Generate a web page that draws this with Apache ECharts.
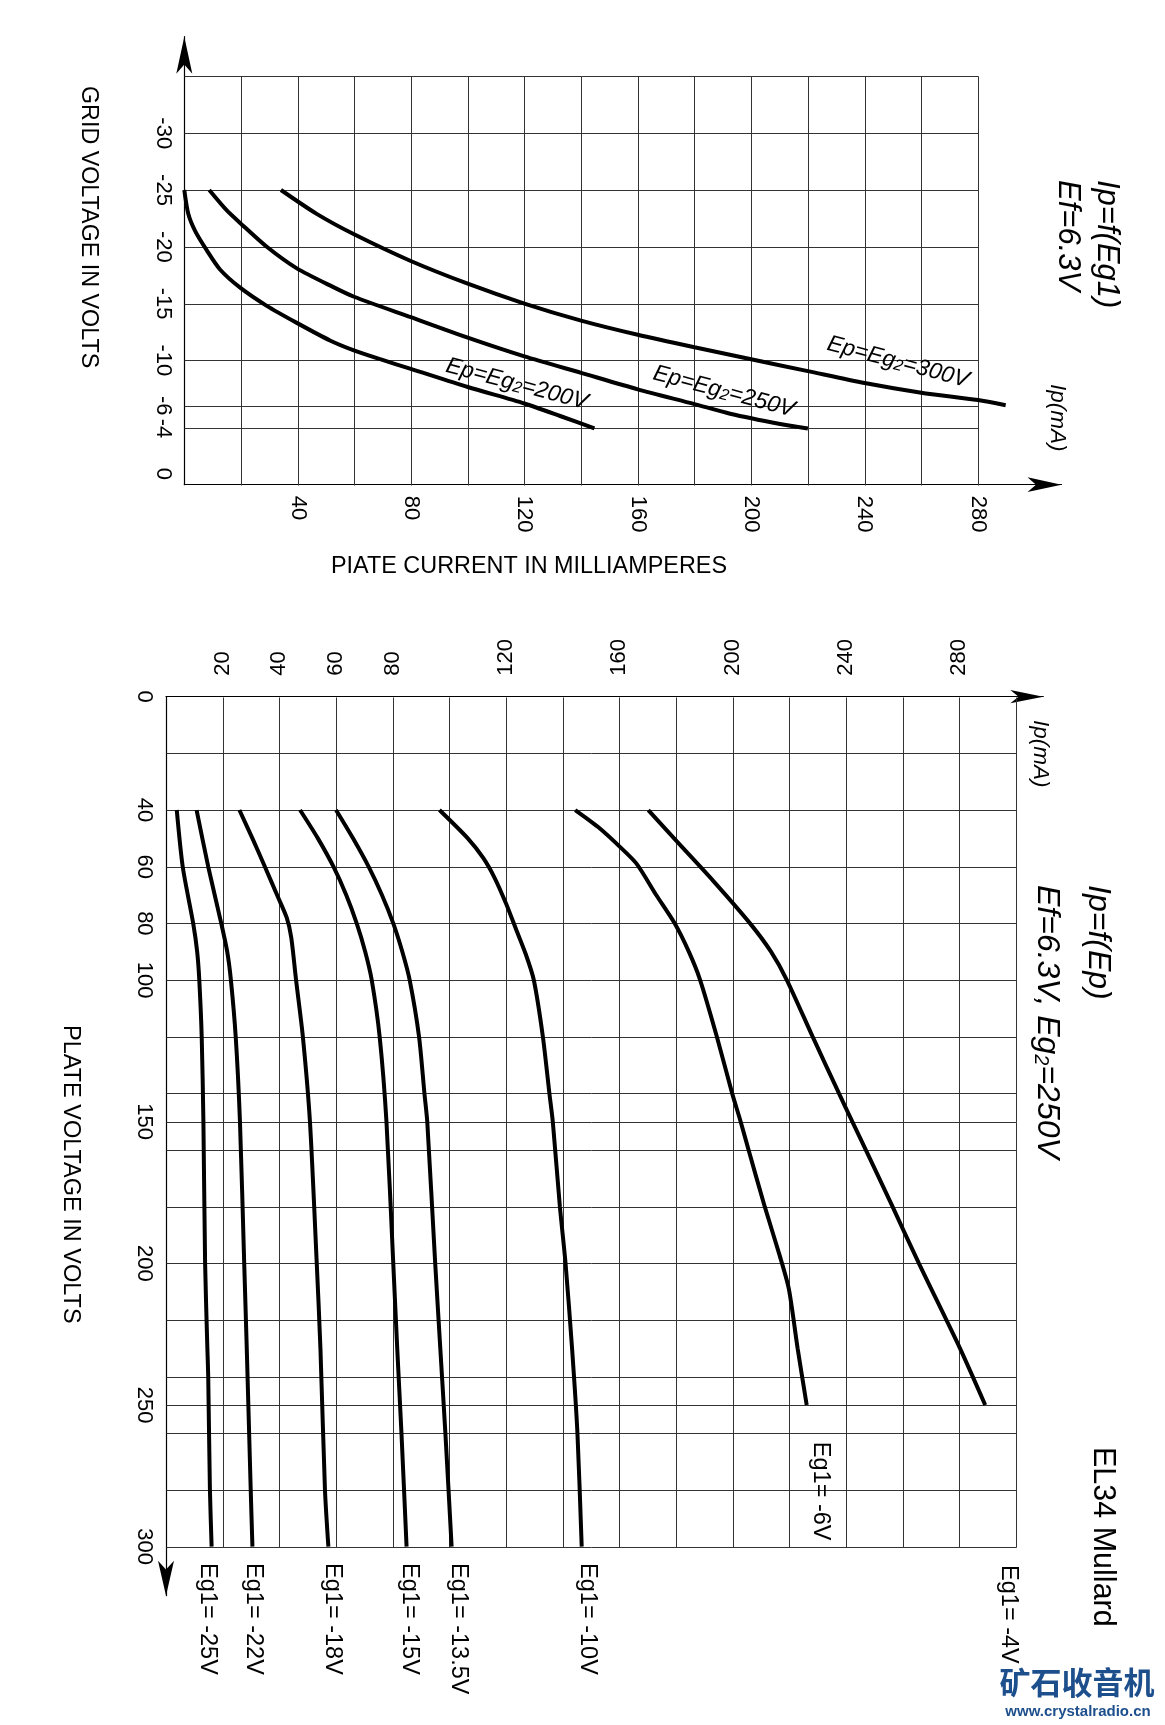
<!DOCTYPE html>
<html><head><meta charset="utf-8">
<script src="https://cdn.jsdelivr.net/npm/echarts@6/dist/echarts.min.js"></script>
<style>html,body{margin:0;padding:0;background:#fff}#c{width:1165px;height:1725px}</style>
</head><body><div id="c"></div>
<script>
// ================= DATA =================
// Top chart: Ip = f(Eg1) — x: plate current (mA), y: grid voltage (V)
const gridVoltTicks = [-30, -25, -20, -15, -10, -6, -4, 0];
const topCurrentTicks = [40, 80, 120, 160, 200, 240, 280];
const topHGrid = [-35, -30, -25, -20, -15, -10, -6, -4];
const topVGrid = [20, 40, 60, 80, 100, 120, 140, 160, 180, 200, 220, 240, 260, 280];

const ep200Current = [0, 1.4, 3.8, 7.9, 12.6, 19.7, 29.1, 39.7, 51.4, 59.6, 69.1, 79.9, 100, 120, 132.6, 144.7];
const ep200GridV   = [-25, -22.9, -21.4, -19.7, -18.0, -16.4, -14.8, -13.3, -11.75, -10.9, -10.1, -9.25, -7.65, -6.2, -5.1, -4];
const ep250Current = [8.8, 15.0, 19.7, 29.1, 39.7, 52.6, 59.9, 79.9, 100, 120, 140, 160, 180, 192.6, 210.2, 220];
const ep250GridV   = [-25, -23.2, -22.1, -20, -18.1, -16.45, -15.6, -13.8, -12.0, -10.35, -8.9, -7.45, -6.15, -5.3, -4.4, -4];
const ep300Current = [34.1, 46.7, 59.9, 79.9, 100, 120, 140, 160, 180, 200, 220, 240, 260, 280, 289.8];
const ep300GridV   = [-25, -22.9, -21.1, -18.75, -16.75, -15, -13.5, -12.25, -11.15, -10.1, -9.05, -8.0, -7.15, -6.5, -6.05];

const topCurveLabels  = ['Ep=Eg{s|2}=200V', 'Ep=Eg{s|2}=250V', 'Ep=Eg{s|2}=300V'];
const topCurveLabelI  = [117.3, 190.4, 251.8];
const topCurveLabelV  = [-7.9, -7.24, -9.84];

// Bottom chart: Ip = f(Ep) — x: plate current (mA), y: plate voltage (V)
const plateVoltTicks = [0, 40, 60, 80, 100, 150, 200, 250, 300];
const botCurrentTicks = [20, 40, 60, 80, 120, 160, 200, 240, 280];
const botHGrid = [20, 40, 60, 80, 100, 120, 140, 150, 160, 180, 200, 220, 240, 250, 260, 280, 300];
const botVGrid = [20, 40, 60, 80, 100, 120, 140, 160, 180, 200, 220, 240, 260, 280, 300];

const eg25Current = [3.8, 5.9, 9.6, 11.0, 11.75, 12.6, 13.2, 13.8, 14.6, 14.9, 15.5, 16.1];
const eg25PlateV  = [40, 60, 80, 90, 100, 120, 150, 200, 230, 240, 280, 300];
const eg22Current = [10.8, 14.9, 19.5, 21.6, 22.9, 24.6, 26.1, 27.6, 28.5, 29.9, 30.5];
const eg22PlateV  = [40, 60, 80, 90, 100, 120, 150, 200, 230, 280, 300];
const eg18Current = [25.9, 30.5, 34.9, 39.2, 42.6, 44.2, 45.9, 48.3, 50.8, 53.2, 54.5, 56.1, 57.3];
const eg18PlateV  = [40, 50, 60, 70, 78, 85, 100, 120, 150, 200, 230, 280, 300];
const eg15Current = [47.3, 53.6, 59.1, 63.6, 67.3, 70.3, 72.6, 75.4, 77.8, 80.2, 81.6, 83.1, 84.9];
const eg15PlateV  = [40, 50, 60, 70, 80, 90, 100, 120, 150, 200, 230, 260, 300];
const eg135Current = [60.0, 66.0, 71.5, 76.2, 80.2, 83.4, 86.0, 89.3, 91.2, 92.2, 95.0, 96.8, 98.6, 100.8];
const eg135PlateV  = [40, 50, 60, 70, 80, 90, 100, 120, 140, 150, 200, 230, 260, 300];
const eg10Current = [96.5, 106.5, 112, 116, 120, 123.5, 127, 129.8, 133, 135.3, 136.5, 139, 141, 143.3, 145.2, 146.7];
const eg10PlateV  = [40, 50, 57, 64, 73, 82, 91, 100, 120, 140, 150, 180, 200, 230, 260, 300];
const eg6Current = [144.4, 152.5, 160.2, 166.1, 173, 179.5, 184.5, 188.5, 194.4, 199.8, 202.8, 205.6, 211.3, 216.5, 219.8, 222.9, 226.1];
const eg6PlateV  = [40, 46, 53, 59, 70, 80, 90, 100, 120, 140, 150, 160, 180, 197, 209, 230, 250];
const eg4Current = [170.2, 180.2, 193.1, 206.1, 213.5, 219.1, 228.2, 237.5, 242.2, 247, 256.4, 265.7, 280.2, 289.1];
const eg4PlateV  = [40, 51, 65, 80, 90, 100, 120, 140, 150, 160, 180, 200, 230, 250];

const botCurveLabels = ['Eg1= -25V', 'Eg1= -22V', 'Eg1= -18V', 'Eg1= -15V', 'Eg1= -13.5V', 'Eg1= -10V', 'Eg1= -6V', 'Eg1= -4V'];
const botCurveLabelI = [14.8, 30.7, 58.6, 86.1, 103.1, 148.9, 231.1, 297.2];
const botCurveLabelV = [305.8, 305.8, 305.8, 305.8, 305.8, 305.8, 263, 306.5];

// ================= LAYOUT / STYLE =================
const FONT = '"Liberation Sans", Arial, Helvetica, sans-serif';
const TOP = {left: 184.3, top: 36.7, width: 877.2, height: 448, xMax: 309.5, yMin: -38.5, yMax: 0.95};
const BOT = {left: 166, top: 696.7, width: 877.3, height: 899, xMax: 309.6, yMax: 317.3};
const GRID_COLOR = '#333333';

const zip = (xs, ys) => xs.map((x, i) => [x, ys[i]]);
const hasTick = (list, v) => list.some(t => Math.abs(t - v) < 1e-6);

function gridLines(idx, hVals, vVals, xr, yr) {
  const data = hVals.map(v => [0, v]).concat(vVals.map(v => [1, v]));
  return {
    type: 'custom', xAxisIndex: idx, yAxisIndex: idx, silent: true, z: 1, clip: false,
    data: data,
    renderItem: function (params, api) {
      const o = api.value(0), v = api.value(1);
      const p1 = o === 0 ? api.coord([xr[0], v]) : api.coord([v, yr[0]]);
      const p2 = o === 0 ? api.coord([xr[1], v]) : api.coord([v, yr[1]]);
      const r = (a) => Math.round(a) + 0.5;
      return {type: 'line', shape: {x1: r(p1[0]), y1: r(p1[1]), x2: r(p2[0]), y2: r(p2[1])},
              style: {stroke: GRID_COLOR, lineWidth: 1}};
    }
  };
}
function curve(idx, xs, ys) {
  return {type: 'line', xAxisIndex: idx, yAxisIndex: idx, data: zip(xs, ys), smooth: 0.25,
          symbol: 'none', silent: true, z: 5, lineStyle: {color: '#000', width: 4}};
}
const axisLabelBase = {color: '#000', fontSize: 22, fontFamily: FONT, rotate: -90};

const option = {
  backgroundColor: '#fff',
  animation: false,
  grid: [
    {left: TOP.left, top: TOP.top, width: TOP.width, height: TOP.height, containLabel: false, outerBoundsMode: 'none'},
    {left: BOT.left, top: BOT.top, width: BOT.width, height: BOT.height, containLabel: false, outerBoundsMode: 'none'}
  ],
  xAxis: [
    {type: 'value', gridIndex: 0, position: 'bottom', min: 0, max: TOP.xMax, interval: 20,
     axisLine: {show: true, onZero: false, symbol: ['none', 'arrow'], symbolSize: [11, 34], lineStyle: {color: '#000', width: 1.2}},
     axisTick: {show: false}, splitLine: {show: false},
     axisLabel: Object.assign({}, axisLabelBase, {margin: 11, showMaxLabel: false,
       formatter: v => hasTick(topCurrentTicks, v) ? String(v) : ''})},
    {type: 'value', gridIndex: 1, position: 'top', min: 0, max: BOT.xMax, interval: 20,
     axisLine: {show: true, onZero: false, symbol: ['none', 'arrow'], symbolSize: [10, 33], lineStyle: {color: '#000', width: 1.2}},
     axisTick: {show: false}, splitLine: {show: false},
     axisLabel: Object.assign({}, axisLabelBase, {margin: 21, showMaxLabel: false,
       formatter: v => hasTick(botCurrentTicks, v) ? String(v) : ''})}
  ],
  yAxis: [
    {type: 'value', gridIndex: 0, inverse: true, min: TOP.yMin, max: TOP.yMax, interval: 0.5,
     axisLine: {show: true, onZero: false, symbol: ['none', 'arrow'], symbolSize: [12, 37], lineStyle: {color: '#000', width: 1.2}},
     axisTick: {show: false}, splitLine: {show: false},
     axisLabel: Object.assign({}, axisLabelBase, {margin: 10, showMaxLabel: false,
       formatter: v => hasTick(gridVoltTicks, v) ? String(v) : ''})},
    {type: 'value', gridIndex: 1, inverse: true, min: 0, max: BOT.yMax, interval: 10,
     axisLine: {show: true, onZero: false, symbol: ['arrow', 'none'], symbolSize: [12, 35], lineStyle: {color: '#000', width: 1.2}},
     axisTick: {show: false}, splitLine: {show: false},
     axisLabel: Object.assign({}, axisLabelBase, {margin: 11, showMaxLabel: false,
       formatter: v => hasTick(plateVoltTicks, v) ? String(v) : ''})}
  ],
  series: [
    gridLines(0, topHGrid, topVGrid, [0, 280], [TOP.yMax, -35]),
    gridLines(1, botHGrid, botVGrid, [0, 300], [0, 300]),
    curve(0, ep200Current, ep200GridV),
    curve(0, ep250Current, ep250GridV),
    curve(0, ep300Current, ep300GridV),
    curve(1, eg25Current, eg25PlateV),
    curve(1, eg22Current, eg22PlateV),
    curve(1, eg18Current, eg18PlateV),
    curve(1, eg15Current, eg15PlateV),
    curve(1, eg135Current, eg135PlateV),
    curve(1, eg10Current, eg10PlateV),
    curve(1, eg6Current, eg6PlateV),
    curve(1, eg4Current, eg4PlateV)
  ]
};

const chart = echarts.init(document.getElementById('c'));
chart.setOption(option);

// ================= TEXT =================
function vtext(x, y, text, size, extra) {
  return {type: 'text', x: x, y: y, rotation: -Math.PI / 2, silent: true, z: 10,
    style: Object.assign({text: text, fontSize: size, fontFamily: FONT, fill: '#000', align: 'left', verticalAlign: 'middle'}, extra || {})};
}
const subRich = (size) => ({s: {fontSize: size, fontFamily: FONT, fontStyle: 'italic', fill: '#000', verticalAlign: 'bottom'}});
const graphics = [
  vtext(88, 86, 'GRID VOLTAGE IN VOLTS', 23.3),
  {type: 'text', x: 529, y: 567, silent: true, style: {text: 'PIATE CURRENT IN MILLIAMPERES', fontSize: 23.4, fontFamily: FONT, fill: '#000', align: 'center', verticalAlign: 'middle'}},
  vtext(1107, 180, 'Ip=f(Eg1)', 31, {fontStyle: 'italic'}),
  vtext(1068, 180, 'Ef=6.3V', 31, {fontStyle: 'italic'}),
  vtext(1057, 384, 'Ip(mA)', 22.5, {fontStyle: 'italic'}),
  vtext(1040, 720, 'Ip(mA)', 22.5, {fontStyle: 'italic'}),
  vtext(1098, 885, 'Ip=f(Ep)', 32, {fontStyle: 'italic'}),
  vtext(1047, 885, 'Ef=6.3V, Eg{s|2}=250V', 32, {fontStyle: 'italic', rich: subRich(20)}),
  vtext(70, 1025, 'PLATE VOLTAGE IN VOLTS', 23.5),
  vtext(1102, 1447, 'EL34 Mullard', 30.5),
  {type: 'text', x: 1077, y: 1682, silent: true, style: {text: '矿石收音机', fontSize: 31, fontWeight: 'bold', fontFamily: '"Noto Sans CJK SC", sans-serif', fill: '#1d4f8c', align: 'center', verticalAlign: 'middle'}},
  {type: 'text', x: 1078, y: 1712, silent: true, style: {text: 'www.crystalradio.cn', fontSize: 15, fontWeight: 'bold', fontFamily: FONT, fill: '#1d4f8c', align: 'center', verticalAlign: 'middle'}}
];
topCurveLabels.forEach((t, i) => {
  const p = chart.convertToPixel({gridIndex: 0}, [topCurveLabelI[i], topCurveLabelV[i]]);
  graphics.push({type: 'text', x: p[0], y: p[1], rotation: -15 * Math.PI / 180, silent: true, z: 10,
    style: {text: t, fontSize: 23, fontStyle: 'italic', fontFamily: FONT, fill: '#000', align: 'center', verticalAlign: 'middle', rich: subRich(16)}});
});
botCurveLabels.forEach((t, i) => {
  const p = chart.convertToPixel({gridIndex: 1}, [botCurveLabelI[i], botCurveLabelV[i]]);
  graphics.push(vtext(p[0], p[1], t, 23.5));
});
chart.setOption({graphic: graphics});
</script>
</body></html>
